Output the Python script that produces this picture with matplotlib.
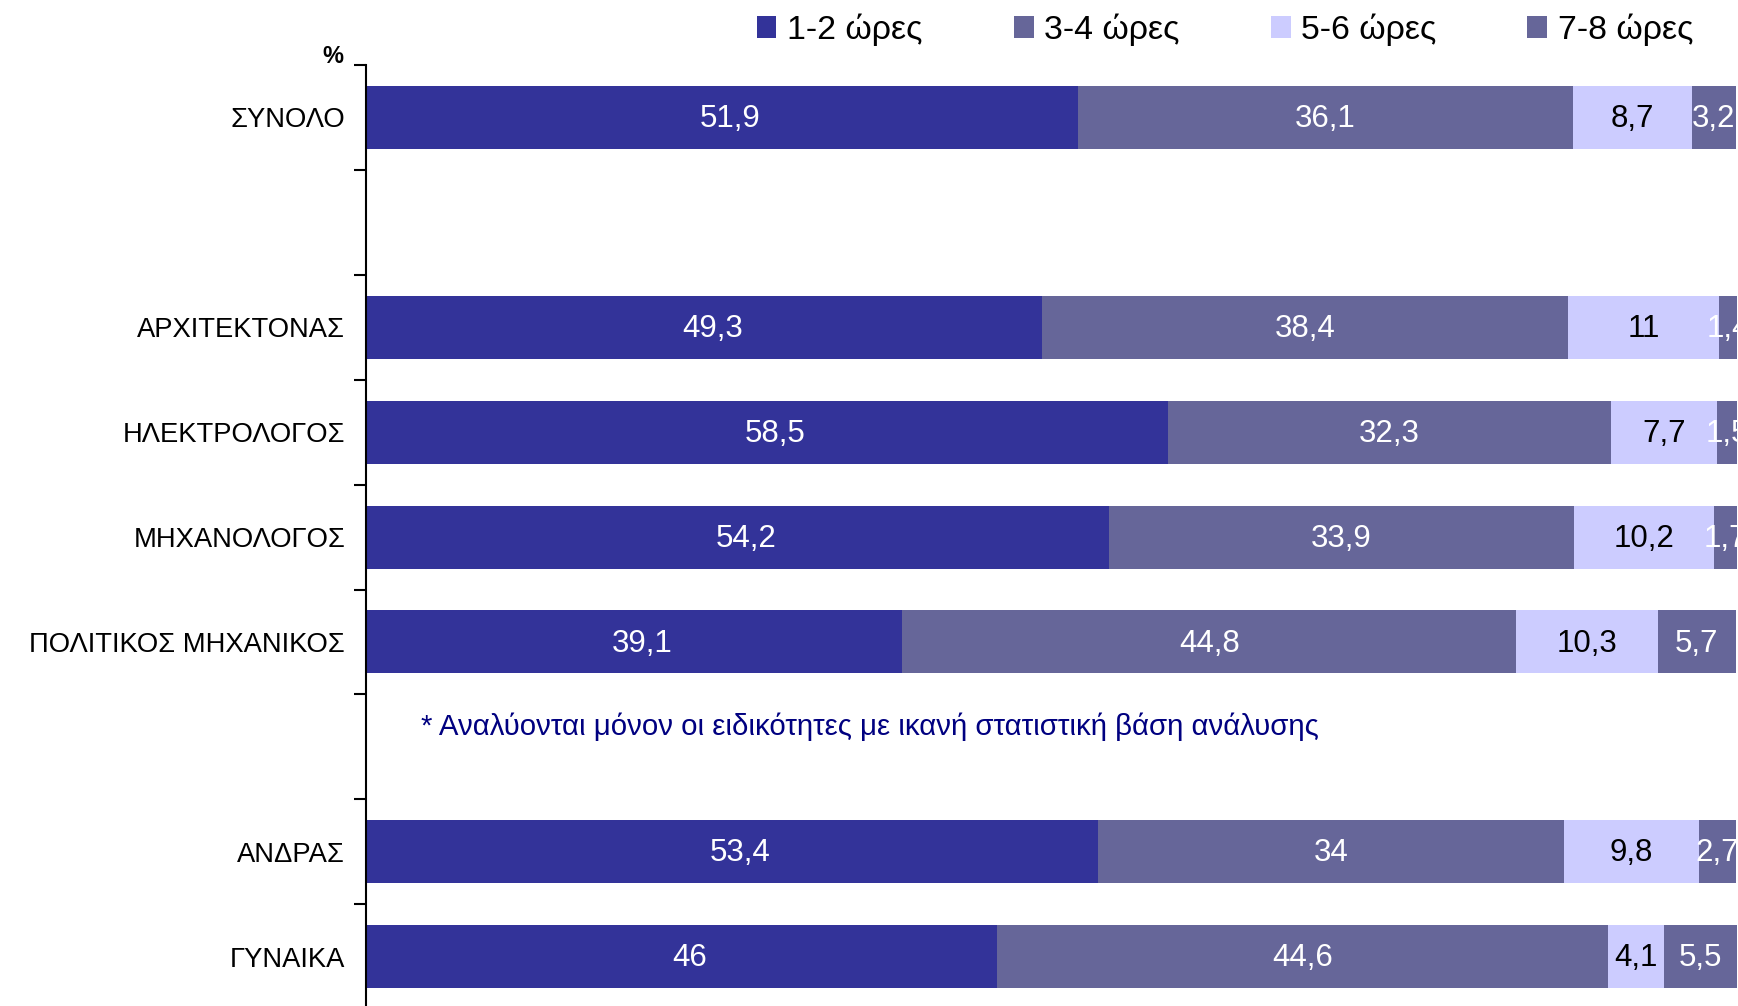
import matplotlib
matplotlib.use("Agg")
import matplotlib.pyplot as plt
import numpy as np

plt.rcParams["font.family"] = ["Liberation Sans", "DejaVu Sans"]

categories = ["ΣΥΝΟΛΟ", "", "ΑΡΧΙΤΕΚΤΟΝΑΣ", "ΗΛΕΚΤΡΟΛΟΓΟΣ", "ΜΗΧΑΝΟΛΟΓΟΣ",
              "ΠΟΛΙΤΙΚΟΣ ΜΗΧΑΝΙΚΟΣ", "", "ΑΝΔΡΑΣ", "ΓΥΝΑΙΚΑ"]
series_names = ["1-2 ώρες", "3-4 ώρες", "5-6 ώρες", "7-8 ώρες"]
hours_1_2 = [51.9, None, 49.3, 58.5, 54.2, 39.1, None, 53.4, 46]
hours_3_4 = [36.1, None, 38.4, 32.3, 33.9, 44.8, None, 34, 44.6]
hours_5_6 = [8.7, None, 11, 7.7, 10.2, 10.3, None, 9.8, 4.1]
hours_7_8 = [3.2, None, 1.4, 1.5, 1.7, 5.7, None, 2.7, 5.5]
note = "* Αναλύονται μόνον οι ειδικότητες με ικανή στατιστική βάση ανάλυσης"

colors = ["#333399", "#666699", "#CCCCFF", "#666699"]
label_colors = ["white", "white", "black", "white"]


def fmt(v):
    if v is None:
        return ""
    if float(v).is_integer():
        return str(int(v))
    return str(v).replace(".", ",")


fig = plt.figure(figsize=(17.38, 10.06), dpi=100)
ax = fig.add_axes([366 / 1738, -0.0031, 0.7889, 0.9385])

y = np.arange(len(categories))
left = np.zeros(len(categories))
handles = []
for i, (name, vals, col, tcol) in enumerate(zip(
        series_names, [hours_1_2, hours_3_4, hours_5_6, hours_7_8],
        colors, label_colors)):
    v = np.array([0 if x is None else x for x in vals], dtype=float)
    bars = ax.barh(y, v, left=left, height=0.6, color=col, label=name)
    texts = ax.bar_label(bars, labels=[fmt(x) for x in vals], label_type="center",
                         color=tcol, fontsize=22.5)
    # the first segment's labels sit a little right of centre in the original
    dx = 6 if i == 0 else 0
    for t in texts:
        t.xyann = (dx, -1.2)
    handles.append(bars)
    left += v

ax.set_xlim(0, 100)
ax.set_ylim(len(categories) - 0.5, -0.5)
ax.set_yticks(y)
ax.set_yticklabels(categories, fontsize=19.7)
ax.set_yticks(np.arange(len(categories) + 1) - 0.5, minor=True)
ax.tick_params(axis="y", which="major", length=0, pad=15)
ax.tick_params(axis="y", which="minor", length=9, width=1.5)
ax.set_xticks([])
for side in ["top", "right", "bottom"]:
    ax.spines[side].set_visible(False)
ax.spines["left"].set_linewidth(1.5)

ax.text(4.0, 5.81, note, color="#000080", fontsize=21.2, va="center", ha="left")
fig.text(343 / 1738, 1 - 63 / 1006, "%", fontsize=17, fontweight="bold",
         ha="right", va="baseline")

fig.legend(handles=handles, labels=series_names, loc="upper left",
           bbox_to_anchor=(726 / 1738, 1.017), ncol=4, frameon=False,
           fontsize=24.4, handlelength=0.59, handleheight=0.59, handletextpad=0.3,
           columnspacing=2.7)

fig.savefig("out.png", dpi=100)
